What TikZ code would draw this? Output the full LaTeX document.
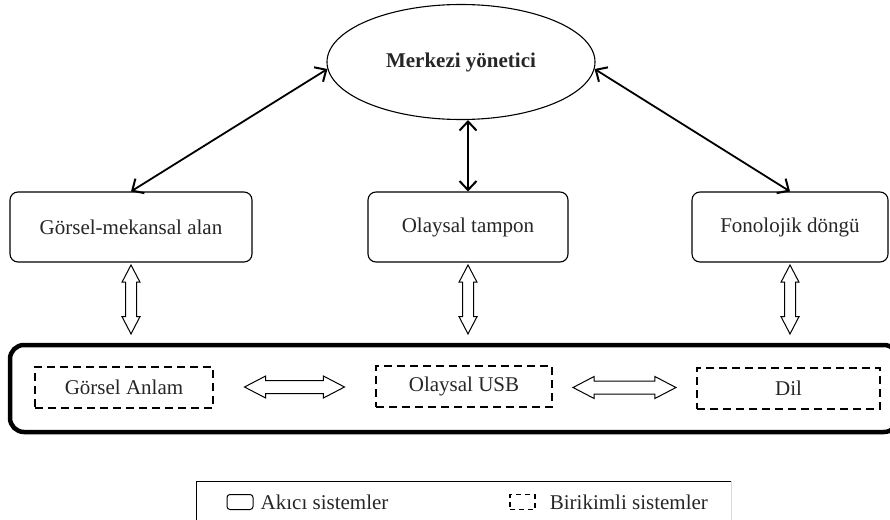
\documentclass[tikz,border=0pt]{standalone}
\usepackage{fontspec}
\setmainfont{Liberation Serif}
\usepackage{tikz}
\usetikzlibrary{arrows.meta, positioning, shapes.geometric, shapes.arrows, calc}
\tikzset{%
	every system/.style={
		draw,
		rounded corners=8pt,
		line width=1.1pt,
		minimum height=70pt,
		inner sep=0pt
	},
	system stored/.style={
		draw,
		dash pattern=on 8pt off 5pt,
		line width=1.5pt,
		minimum height=41pt,
		inner sep=0pt
	},
	link/.style={
		line width=1.8pt,
		{Straight Barb[length=9pt,width=17pt,line width=2pt]}-{Straight Barb[length=9pt,width=17pt,line width=2pt]}
	},
	hollow arrow/.style={
		draw,
		double arrow,
		line width=1pt,
		fill=white,
		inner xsep=0pt,
		inner ysep=6pt,
		double arrow head extend=4.5pt,
		double arrow tip angle=55
	},
}

\begin{document}
\begin{tikzpicture}[x=1pt, y=-1pt, font=\fontsize{21}{25}\selectfont, text=black!85]
			% Fix the page size
			\useasboundingbox (0,0) rectangle (890,519);
			\clip (0,0) rectangle (890,519);
			
			% Draw the central executive
			\node[ellipse, draw, line width=1.1pt, minimum width=268pt, minimum height=115pt, inner sep=0pt] (cm) at (461,62) {\textbf{Merkezi yönetici}};
			
			% Draw the fluid systems
			\node[every system, minimum width=242pt] (vs) at (131,227) {Görsel-mekansal alan};
			\node[every system, minimum width=200pt] (ep) at (468,227) {Olaysal tampon};
			\node[every system, minimum width=196pt] (pl) at (790,227) {Fonolojik döngü};
			
			% Draw the crystallized systems inside the thick frame
			\node[draw, rounded corners=14pt, line width=4.5pt, minimum width=888pt, minimum height=87pt] (wm) at (454,388.5) {};
			\node[system stored, minimum width=178pt] (va) at (124,387.5) {Görsel Anlam};
			\node[system stored, minimum width=176pt] (eu) at (464,386.5) {Olaysal USB};
			\node[system stored, minimum width=183pt] (dl) at (788.5,388.5) {Dil};
			
			% Connect the executive to the fluid systems
			\draw[link] (cm.183) -- (vs.north);
			\draw[link] (cm.-3) -- (pl.north);
			\draw[link] (ep.north |- cm.south) -- (ep.north);
			
			% Hollow arrows between the two layers
			\foreach \s in {vs,ep,pl} {
				\node[hollow arrow, rotate=90, inner ysep=5pt, double arrow head extend=3.5pt, minimum height=69pt] (up\s) at ($(\s.south)!0.46!(\s.south |- wm.north)$) {};
			}
			\node[hollow arrow, minimum height=100pt] (ar1) at ($(va.east)!0.5!(eu.west)$) {};
			\node[hollow arrow, minimum height=103pt] (ar2) at ($(eu.east)!0.5!(dl.west)$) {};
			
			% Draw the key
			\draw[line width=0.8pt] (196,540) |- (731,481);
			\draw[black!15] (731,481) -- (731,540);
			\node[draw, rounded corners=3pt, line width=1pt, minimum width=26pt, minimum height=15pt, inner sep=0pt] (fl) at (240,502) {};
			\node[right=7pt of fl, inner sep=0pt] (fltext) {Akıcı sistemler};
			\node[draw, dash pattern=on 5pt off 4pt, line width=1.3pt, minimum width=25pt, minimum height=15pt, inner sep=0pt] (cr) at (522.5,502) {};
			\node[right=14pt of cr, inner sep=0pt] (crtext) {Birikimli sistemler};
			
		\end{tikzpicture}
\end{document}
